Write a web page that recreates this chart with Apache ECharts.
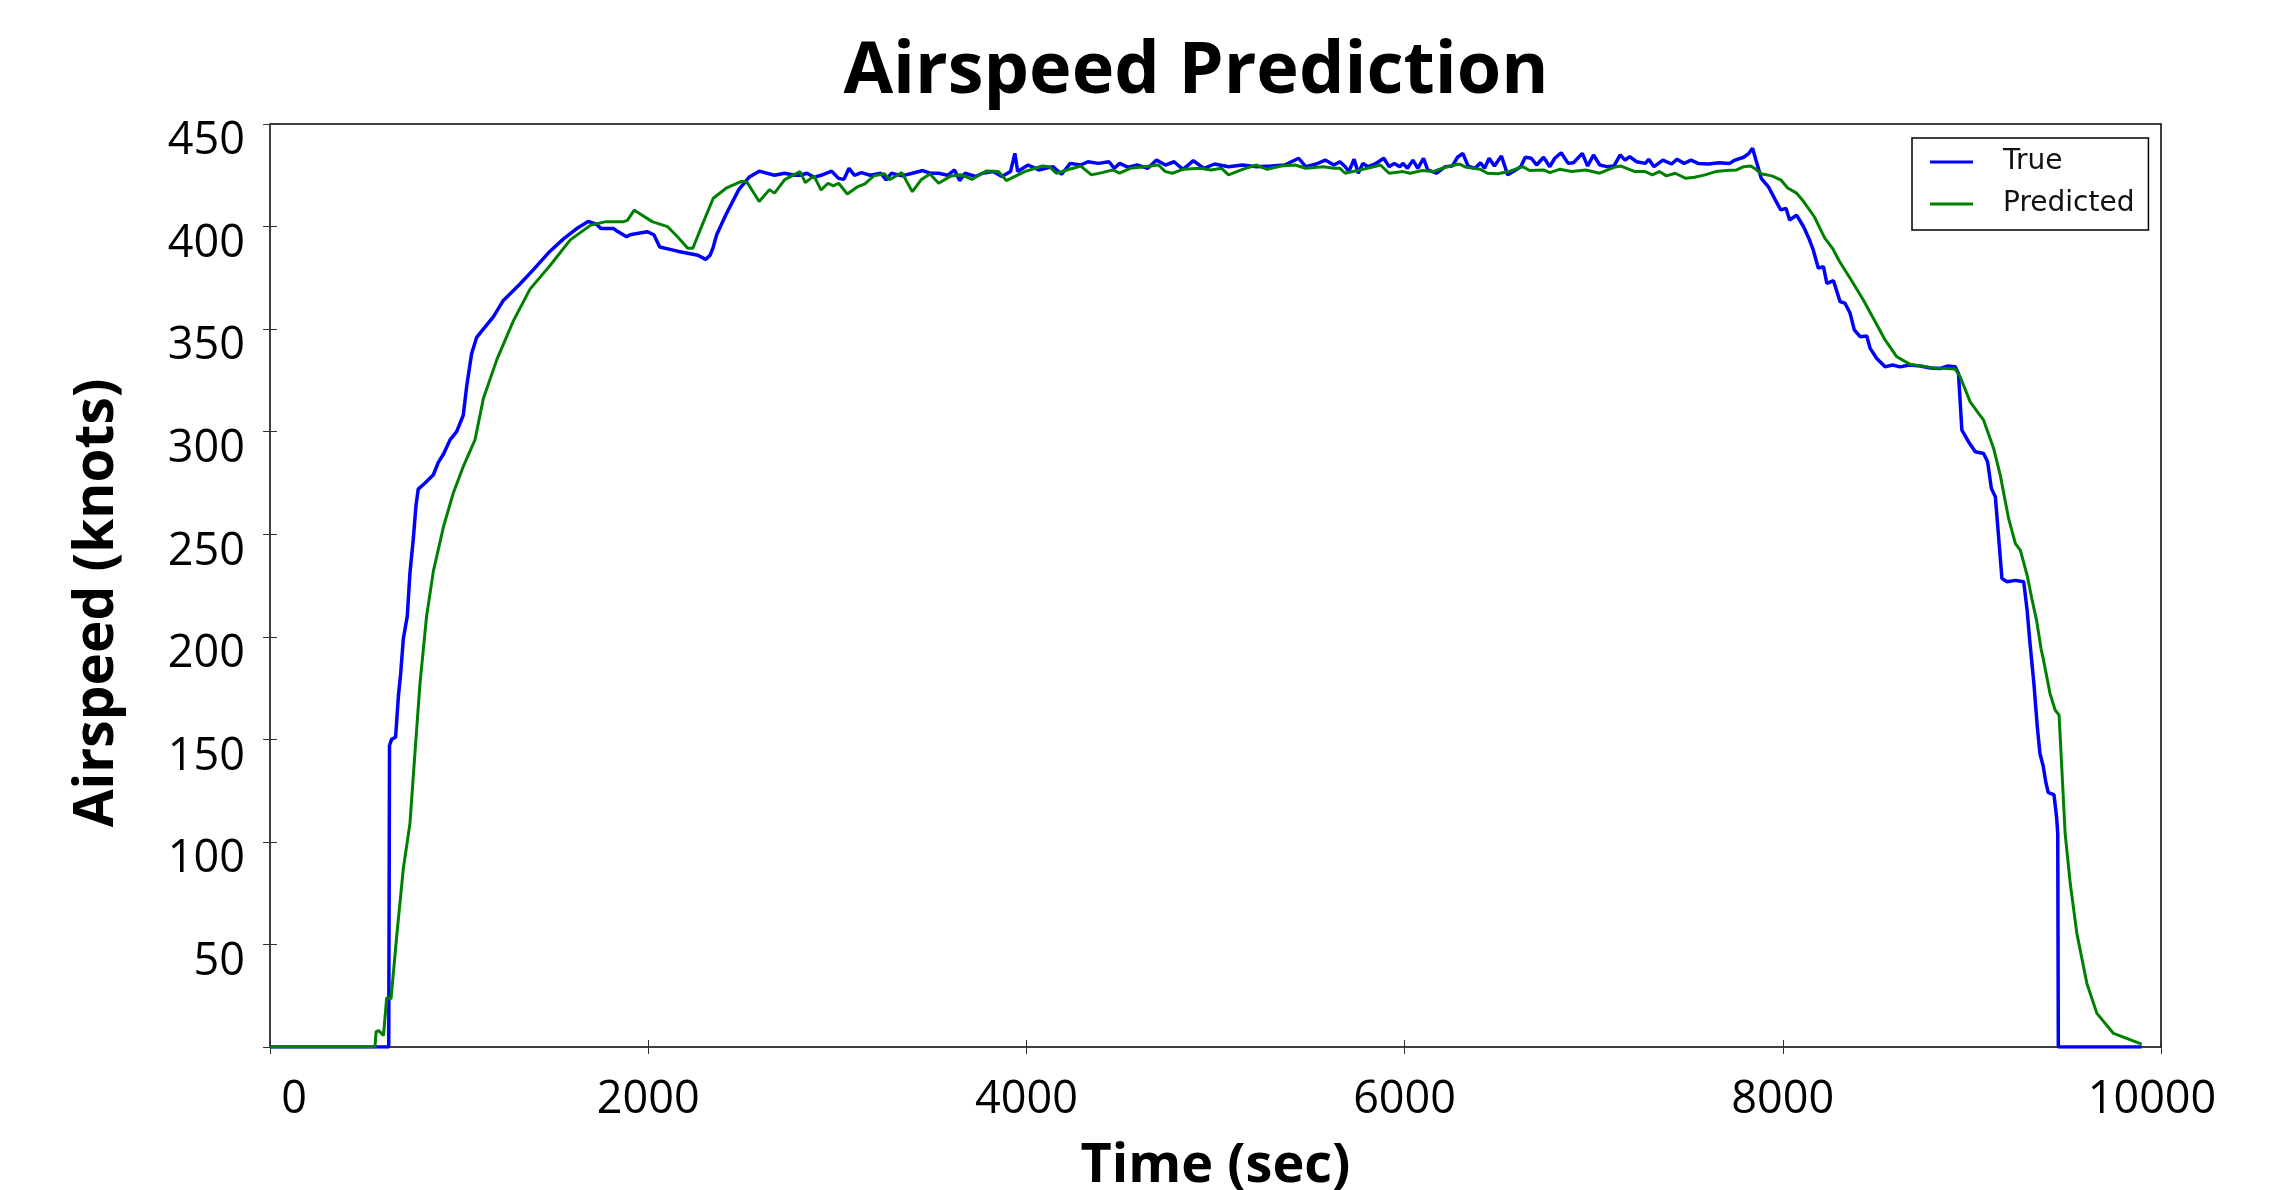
<!DOCTYPE html>
<html>
<head>
<meta charset="utf-8">
<title>Airspeed Prediction</title>
<script src="https://cdn.jsdelivr.net/npm/echarts@6/dist/echarts.min.js"></script>
<style>
  html, body { margin: 0; padding: 0; background: #fff; }
  #chart { width: 2283px; height: 1190px; }
</style>
</head>
<body>
<div id="chart"></div>
<script>
// ---- data (time in sec, airspeed in knots) ----
var chartTitle = 'Airspeed Prediction';
var xAxisName = 'Time (sec)';
var yAxisName = 'Airspeed (knots)';
var seriesNames = ['True', 'Predicted'];
var xTicks = [0, 2000, 4000, 6000, 8000, 10000];
var yTicks = [50, 100, 150, 200, 250, 300, 350, 400, 450];

var trueData = [
  [0,0],[628,0],[632,147],[643,150],[664,151],[679,171],[691,182],[705,199],[726,210],[740,231],
  [758,248],[772,264],[784,272],[820,275],[864,279],[890,285],[917,289],[952,296],[987,300],[1022,308],
  [1040,322],[1066,338],[1093,346],[1128,350],[1181,356],[1234,364],[1322,372],[1393,379],[1481,388],
  [1552,394],[1622,399],[1683,402.5],[1728,401],[1751,399],[1817,399],[1832,398],[1886,395],[1904,396],
  [1994,397.5],[2030,396],[2061,390],[2155,388],[2263,386],[2304,384],[2327,386],[2344,390],[2362,396],
  [2412,406],[2479,418],[2533,424],[2587,427],[2668,425],[2720,426],[2776,425],[2803,425],[2840,426],
  [2877,424],[2914,425],[2970,427],[3007,423.5],[3035,423],[3062,428.4],[3090,425],[3128,426.3],
  [3174,425],[3230,426],[3258,422.8],[3286,426],[3341,424.7],[3397,426],[3452,427.3],[3490,426],
  [3536,426],[3583,425],[3620,427.6],[3647,422.4],[3675,426],[3731,424.4],[3768,426],[3824,426.8],
  [3870,424.4],[3916,426.8],[3939,435.7],[3954,426.8],[4009,430],[4065,427.6],[4140,429.2],[4186,425.5],
  [4232,430.8],[4288,430],[4325,431.6],[4381,430.8],[4437,431.6],[4465,428.4],[4493,430.8],[4539,428.9],
  [4586,430],[4642,428.4],[4688,432.4],[4735,430],[4781,431.6],[4828,427.9],[4883,432.1],[4939,428.4],
  [4995,430.5],[5069,429.2],[5143,430],[5217,429.2],[5292,429.5],[5366,430],[5440,433.3],[5477,429.2],
  [5533,430.5],[5580,432.4],[5626,430],[5658,431.6],[5686,429.2],[5705,426.8],[5733,432.8],[5755,426],
  [5779,430.8],[5807,429.2],[5844,430.5],[5890,433.3],[5918,429.2],[5946,430.8],[5974,429.2],[5992,430.8],
  [6015,428.4],[6044,432.4],[6070,428.4],[6100,433.3],[6122,427.6],[6168,426],[6215,429.2],[6252,429.5],
  [6280,433.8],[6308,435.7],[6336,429.5],[6373,428.4],[6401,431.1],[6423,428.4],[6447,433.3],[6475,429.5],
  [6512,434.4],[6545,425.2],[6587,427.6],[6614,429.2],[6638,433.8],[6670,433.3],[6698,430],[6735,433.8],
  [6768,429.2],[6794,433.3],[6828,436],[6865,430.8],[6893,431.1],[6940,435.7],[6968,429.5],[6999,434.9],
  [7032,430],[7070,429.2],[7107,429.5],[7140,434.9],[7166,432.4],[7190,434.1],[7227,431.6],[7273,430.8],
  [7291,432.8],[7319,429.2],[7366,432.4],[7412,430.5],[7440,432.8],[7478,430.8],[7515,432.4],[7552,430.8],
  [7608,430.5],[7663,431.1],[7719,430.8],[7747,432.4],[7793,433.8],[7821,435.7],[7840,438.2],[7858,432.4],
  [7886,423.5],[7924,419.4],[7961,412.9],[7989,408.1],[8017,408.9],[8036,403.2],[8073,405.6],[8110,399.9],
  [8138,394.2],[8161,388.6],[8188,379.7],[8215,380.5],[8233,372.3],[8268,373.6],[8303,363.4],[8329,362.6],
  [8356,357.7],[8378,349.6],[8409,346.3],[8444,346.6],[8462,340.6],[8497,335.7],[8541,331.6],[8580,332.5],
  [8621,331.6],[8670,332.5],[8727,332],[8780,331],[8832,330.8],[8870,332],[8912,331.6],[8929,328.4],
  [8947,300.8],[8982,295.1],[9018,290.2],[9062,289.4],[9083,285.3],[9103,272.3],[9124,268.3],[9159,228.4],
  [9186,226.8],[9230,227.5],[9274,226.8],[9292,213],[9307,197],[9328,177],[9346,156],[9360,143],
  [9377,137],[9391,129],[9404,124],[9434,123],[9448,112],[9454,104],[9457,0],[9898,0]
];

var predictedData = [
  [0,0],[555,0],[561,7.5],[575,8],[600,5.6],[617,24],[640,23.5],[670,54],[705,87],[740,109],
  [767,144],[793,177],[828,210],[864,232],[917,253.5],[969,270],[1022,283],[1084,296],[1128,316],
  [1199,335],[1287,354],[1375,369.5],[1481,381],[1588,393.5],[1696,400.7],[1777,402.4],[1871,402.4],
  [1890,403],[1926,408],[1960,406],[2021,402.4],[2102,400],[2155,395],[2209,389.4],[2236,389.4],
  [2290,401.8],[2344,413.8],[2412,418.7],[2493,422],[2520,422],[2587,412.2],[2641,418],[2668,416.3],
  [2722,422.9],[2803,426.8],[2831,421.4],[2877,424.7],[2914,417.8],[2951,421.1],[2979,419.8],[3007,421.1],
  [3053,415.9],[3109,419.5],[3146,420.8],[3193,424.7],[3249,425.7],[3276,422.8],[3341,426.3],[3397,417],
  [3443,422.8],[3490,425.6],[3536,421.1],[3601,424.7],[3657,425.2],[3712,423],[3787,427.1],[3852,426.8],
  [3894,422.4],[3991,426.8],[4084,429.5],[4121,429.2],[4158,426],[4214,427.6],[4288,429.5],[4344,425.2],
  [4400,426.3],[4456,427.6],[4493,426],[4549,428.4],[4623,429.2],[4698,430],[4735,426.8],[4772,426],
  [4828,427.9],[4921,428.4],[4976,427.6],[5032,428.4],[5069,425.2],[5143,427.9],[5217,430],[5273,427.9],
  [5347,429.5],[5421,430],[5477,428.4],[5570,429.2],[5626,428.4],[5658,428.4],[5686,426],[5751,427.3],
  [5825,428.9],[5872,430],[5918,426],[5992,426.8],[6029,426],[6094,427.3],[6150,426.8],[6215,428.9],
  [6289,430.5],[6326,428.9],[6401,427.9],[6438,426],[6494,425.7],[6550,426.8],[6624,429.2],[6661,427.3],
  [6735,427.6],[6768,426.3],[6819,427.9],[6884,426.8],[6958,427.6],[7032,426],[7107,428.9],[7144,429.5],
  [7218,426.8],[7273,426.8],[7310,425.2],[7347,426.8],[7385,424.7],[7431,426],[7487,423.5],[7533,424],
  [7589,425.2],[7645,426.8],[7700,427.3],[7756,427.6],[7793,429.2],[7830,429.5],[7858,427.9],[7886,425.7],
  [7942,424.7],[7989,422.8],[8026,418.8],[8073,416.3],[8110,412.2],[8166,404.9],[8222,394.4],[8263,389.4],
  [8300,383],[8356,374.8],[8426,364.2],[8488,353.7],[8541,344.7],[8603,336.5],[8673,332.8],[8797,331.1],
  [8912,330.5],[8938,326.8],[8991,314.5],[9036,308.8],[9062,305.6],[9115,291.8],[9150,278.8],[9194,257.7],
  [9230,245.4],[9256,242.2],[9292,230],[9316,219],[9342,208],[9366,194],[9378,189],[9413,172.4],
  [9440,164.3],[9461,161.8],[9475,136.7],[9493,104.2],[9520,79.8],[9555,55.4],[9608,31],[9661,16.4],
  [9749,6.6],[9898,1.4]
];

// ---- chart ----
var chart = echarts.init(document.getElementById('chart'), null, { renderer: 'canvas' });

var labelFont = '"Open Sans", "DejaVu Sans", sans-serif';
var tickStyle = { show: true, inside: true, length: 7, lineStyle: { color: '#333', width: 1 } };

var xLabelFmt = function (v) {
  if (v === xTicks[0]) return '{l|' + v + '}';
  if (v === xTicks[xTicks.length - 1]) return '{r|' + v + '}';
  return '{n|' + v + '}';
};
var richBase = { fontFamily: labelFont, fontSize: 45, color: '#000' };

var option = {
  backgroundColor: '#ffffff',
  animation: false,
  title: {
    text: chartTitle,
    left: 1191,
    top: 31,
    textAlign: 'center',
    textStyle: { fontFamily: labelFont, fontWeight: 'bold', fontSize: 72, color: '#000' }
  },
  graphic: [
    {
      type: 'text',
      x: 97, y: 603,
      rotation: Math.PI / 2,
      style: {
        text: yAxisName,
        font: 'bold 55px "Open Sans", "DejaVu Sans", sans-serif',
        fill: '#000',
        align: 'center',
        verticalAlign: 'middle'
      }
    }
  ],
  legend: {
    orient: 'vertical',
    left: 1912,
    top: 138,
    padding: [10, 14, 12, 18],
    icon: 'rect',
    itemWidth: 43,
    itemHeight: 3,
    itemGap: 14,
    borderColor: '#000',
    borderWidth: 1.5,
    borderRadius: 0,
    backgroundColor: '#fff',
    data: [
      { name: seriesNames[0], itemStyle: { color: '#0000ff' } },
      { name: seriesNames[1], itemStyle: { color: '#008000' } }
    ],
    textStyle: {
      fontFamily: '"DejaVu Sans", sans-serif', fontSize: 28, lineHeight: 28,
      color: '#111', padding: [0, 0, 0, 25]
    }
  },
  grid: {
    left: 270, right: 122, top: 124, bottom: 143,
    containLabel: false, outerBoundsMode: 'none',
    show: true, borderColor: '#000', borderWidth: 1.5, backgroundColor: 'transparent'
  },
  xAxis: [
    {
      type: 'value', min: 0, max: 10000, interval: 2000, position: 'bottom',
      name: xAxisName, nameLocation: 'middle', nameGap: 93,
      nameTextStyle: { fontFamily: labelFont, fontWeight: 'bold', fontSize: 54, color: '#000' },
      axisLine: { show: false }, splitLine: { show: false }, axisTick: tickStyle,
      axisLabel: {
        margin: 31, formatter: xLabelFmt,
        rich: {
          n: richBase,
          l: Object.assign({}, richBase, { padding: [0, 0, 0, 48] }),
          r: Object.assign({}, richBase, { padding: [0, 18, 0, 0] })
        }
      }
    },
    {
      type: 'value', min: 0, max: 10000, interval: 2000, position: 'top',
      axisLine: { show: false }, splitLine: { show: false }, axisTick: tickStyle,
      axisLabel: { show: false }
    }
  ],
  yAxis: [
    {
      type: 'value', min: 0, max: 450, interval: 50, position: 'left',
      axisLine: { show: false }, splitLine: { show: false }, axisTick: tickStyle,
      axisLabel: {
        showMinLabel: false, margin: 25,
        verticalAlign: 'top', lineHeight: 35,
        fontFamily: labelFont, fontSize: 45, color: '#000',
        formatter: function (v) { return yTicks.indexOf(v) >= 0 ? String(v) : ''; }
      }
    },
    {
      type: 'value', min: 0, max: 450, interval: 50, position: 'right',
      axisLine: { show: false }, splitLine: { show: false }, axisTick: tickStyle,
      axisLabel: { show: false }
    }
  ],
  series: [
    {
      name: seriesNames[0], type: 'line', data: trueData, xAxisIndex: 0, yAxisIndex: 0,
      showSymbol: false, symbol: 'none', smooth: false, z: 2,
      lineStyle: { color: '#0000ff', width: 3.5 }, itemStyle: { color: '#0000ff' }
    },
    {
      name: seriesNames[1], type: 'line', data: predictedData, xAxisIndex: 0, yAxisIndex: 0,
      showSymbol: false, symbol: 'none', smooth: false, z: 3,
      lineStyle: { color: '#008000', width: 3 }, itemStyle: { color: '#008000' }
    }
  ]
};
chart.setOption(option);
</script>
</body>
</html>
